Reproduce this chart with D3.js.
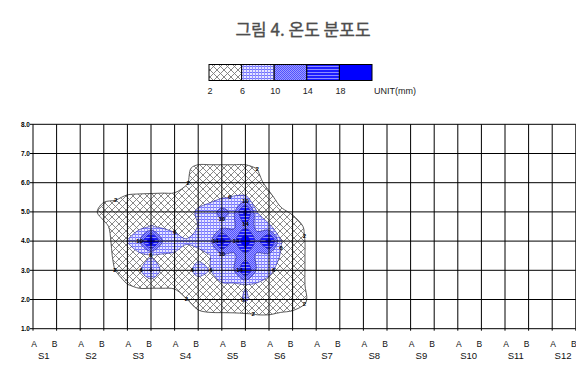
<!DOCTYPE html>
<html>
<head>
<meta charset="utf-8">
<script src="https://cdn.jsdelivr.net/npm/d3@7"></script>
<style>
  body { margin: 0; background: #fff; }
  svg { display: block; font-family: "Liberation Sans", Arial, sans-serif; }
</style>
</head>
<body>
<svg id="chart" width="576" height="372"></svg>
<script>
// ---- data ----
const chartTitle = "그림 4. 온도 분포도";
const stations = ["S1", "S2", "S3", "S4", "S5", "S6", "S7", "S8", "S9", "S10", "S11", "S12"];
const sides = ["A", "B"];
const heights = [1, 2, 3, 4, 5, 6, 7, 8];
const legendBreaks = [2, 6, 10, 14, 18];
const legendUnit = "UNIT(mm)";

// measurement grid: column = line position (0 = S1 A ... 23 = S12 B), row = height
const gridCols = [2, 2.5, 3, 3.5, 4, 4.5, 5, 5.5, 6, 6.5, 7, 7.5, 8, 8.5, 9, 9.5, 10, 10.5, 11, 11.5, 12];
const gridRows = [7, 6.5, 6, 5.5, 5, 4.5, 4, 3.5, 3, 2.5, 2, 1.5, 1];
const gridValues = [
  [0, 0, 0, 0, 0, 0, 0, 0, 0, 0, 0, 0, 0, 0, 0, 0, 0, 0, 0, 0, 0],
  [0, 0, 0, 0, 0, 0, 0, 0, 0, 1.6, 2.6, 2.6, 2.6, 2.6, 2.6, 1.9, 0, 0, 0, 0, 0],
  [0, 0, 0, 0, 0, 0, 0, 0, 0, 1.75, 3.5, 4, 4, 4, 4, 3, 1, 0, 0, 0, 0],
  [0, 0, 1.2, 1.6, 2.4, 2.6, 2.7, 2.8, 2.9, 3.2, 4, 4.8, 5.6, 6.2, 6.3, 5, 2.8, 0.8, 0, 0, 0],
  [0, 0.8, 3.5, 3.6, 3.7, 3.8, 4, 4, 4, 4, 6.8, 8, 11.5, 9, 20, 5.9, 4, 2.6, 1.6, 0, 0],
  [0, 0, 1, 3.5, 4, 5, 6.2, 5.5, 5, 4.5, 6.1, 7.5, 8.5, 9.5, 13, 9, 6.5, 4.5, 3.5, 1.8, 0],
  [0, 0, 0.5, 3, 6.2, 9.5, 22, 9.5, 7.5, 6.3, 7, 8.3, 20.5, 12, 22, 12, 20.5, 6.2, 3.5, 2.1, 0],
  [0, 0, 0.5, 2.6, 4, 5, 5.2, 5.5, 5.5, 5, 5, 5.9, 8.5, 9.5, 12, 9.5, 8, 5.8, 3.5, 2.1, 0],
  [0, 0, 0.3, 2.1, 4, 5, 10.8, 4.5, 4, 4.5, 7.5, 5.8, 8.5, 9.5, 18.5, 9, 7, 4.5, 3.5, 2.1, 0],
  [0, 0, 0, 0.5, 1.9, 2.6, 2.6, 2.6, 2.8, 3.5, 4, 4.5, 5.5, 5.5, 5.8, 5.5, 4.5, 4, 3.5, 2.1, 0],
  [0, 0, 0, 0, 0, 0, 0, 0, 0, 1.9, 3, 3.5, 3.8, 4.1, 6.6, 4.1, 3.8, 3.5, 3.3, 2.5, 0],
  [0, 0, 0, 0, 0, 0, 0, 0, 0, 0.5, 1.6, 1.8, 1.8, 1.8, 1.8, 2.1, 2.1, 1.8, 1.6, 1, 0],
  [0, 0, 0, 0, 0, 0, 0, 0, 0, 0, 0, 0, 0, 0, 0, 0, 0, 0, 0, 0, 0]
];

// ---- layout ----
const svg = d3.select("#chart");
const nLines = stations.length * sides.length;
const x = d3.scaleLinear().domain([0, nLines - 1]).range([33, 575.8]);
const y = d3.scaleLinear().domain([d3.min(heights), d3.max(heights)]).range([328.7, 124.3]);

// ---- fill patterns, one per band ----
const defs = svg.append("defs");
function pattern(id, w, h) {
  return defs.append("pattern").attr("id", id).attr("patternUnits", "userSpaceOnUse")
    .attr("width", w).attr("height", h);
}
{
  const p = pattern("band0", 7, 7);
  p.append("rect").attr("width", 7).attr("height", 7).attr("fill", "#fff");
  p.append("path").attr("d", "M-1,-1L8,8M8,-1L-1,8").attr("stroke", "#7a7a7a").attr("stroke-width", 0.9);
}
{
  const p = pattern("band1", 3, 3);
  p.append("rect").attr("width", 3).attr("height", 3).attr("fill", "#e6e6ff");
  p.append("rect").attr("width", 3).attr("height", 1).attr("fill", "#7272ff");
  p.append("rect").attr("width", 1).attr("height", 3).attr("fill", "#9494ff");
}
{
  const p = pattern("band2", 2, 2);
  p.append("rect").attr("width", 2).attr("height", 2).attr("fill", "#9c9cff");
  p.append("rect").attr("width", 1).attr("height", 1).attr("fill", "#5050ff");
  p.append("rect").attr("x", 1).attr("y", 1).attr("width", 1).attr("height", 1).attr("fill", "#5050ff");
}
{
  const p = pattern("band3", 3, 3);
  p.append("rect").attr("width", 3).attr("height", 3).attr("fill", "#1c1cff");
  p.append("rect").attr("width", 3).attr("height", 1).attr("fill", "#8c8cff");
}
const bandFill = ["url(#band0)", "url(#band1)", "url(#band2)", "url(#band3)", "#0000ff"];

// ---- title ----
svg.append("text").attr("x", 303).attr("y", 36).attr("text-anchor", "middle")
  .attr("font-family", "'Noto Sans CJK KR', 'Noto Sans', sans-serif")
  .attr("font-size", 17).attr("font-weight", "normal").attr("fill", "#4d4d4d")
  .attr("stroke", "#4d4d4d").attr("stroke-width", 0.35)
  .text(chartTitle);

// ---- legend ----
const legendTop = [...legendBreaks, legendBreaks[legendBreaks.length - 1] + 4];
const lx = d3.scaleLinear().domain([legendTop[0], legendTop[legendTop.length - 1]]).range([209, 372]);
const legend = svg.append("g");
legend.selectAll("rect").data(legendBreaks).join("rect")
  .attr("x", (d, i) => lx(d)).attr("y", 64.5)
  .attr("width", (d, i) => lx(legendTop[i + 1]) - lx(d)).attr("height", 16)
  .attr("fill", (d, i) => bandFill[i]).attr("stroke", "#000").attr("stroke-width", 1);
legend.selectAll("text.lv").data(legendBreaks).join("text").attr("class", "lv")
  .attr("x", d => lx(d) + 1).attr("y", 94).attr("text-anchor", "middle")
  .attr("font-size", 9).attr("fill", "#222").text(d => d);
legend.append("text").attr("x", 374).attr("y", 94).attr("font-size", 9).attr("fill", "#222").text(legendUnit);

// ---- contour bands ----
const nx = gridCols.length, ny = gridRows.length;
const contours = d3.contours().size([nx, ny]).thresholds(legendBreaks)(gridValues.flat());
const gx = d3.scaleLinear().domain([0.5, nx - 0.5]).range([gridCols[0], gridCols[nx - 1]]);
const gy = d3.scaleLinear().domain([0.5, ny - 0.5]).range([gridRows[0], gridRows[ny - 1]]);
const toPx = p => [x(gx(p[0])), y(gy(p[1]))];
const ringLine = d3.line().curve(d3.curveCatmullRomClosed.alpha(0.5));
const ringsOf = c => c.coordinates.flatMap(poly => poly.map(ring => ring.slice(0, -1).map(toPx)));
const bandPath = c => ringsOf(c).map(r => ringLine(r)).join("");

const plot = svg.append("g");
contours.forEach((c, i) => {
  plot.append("path").attr("d", bandPath(c)).attr("fill", bandFill[i]).attr("fill-rule", "evenodd")
    .attr("stroke", i === 0 ? "#4a4a4a" : "#20208a").attr("stroke-width", i === 0 ? 0.9 : 0.6);
});

// ---- grid ----
const grid = svg.append("g").attr("stroke", "#000").attr("stroke-width", 1);
grid.selectAll("line.h").data(heights).join("line").attr("class", "h")
  .attr("x1", x(0)).attr("x2", x(nLines - 1)).attr("y1", d => y(d)).attr("y2", d => y(d));
grid.selectAll("line.v").data(d3.range(nLines)).join("line").attr("class", "v")
  .attr("x1", d => x(d)).attr("x2", d => x(d)).attr("y1", y(1)).attr("y2", y(8));
// small tick marks on the axes
grid.selectAll("line.yt").data(heights).join("line").attr("class", "yt")
  .attr("x1", x(0) - 3).attr("x2", x(0)).attr("y1", d => y(d)).attr("y2", d => y(d));
grid.selectAll("line.xt").data(d3.range(nLines)).join("line").attr("class", "xt")
  .attr("x1", d => x(d)).attr("x2", d => x(d)).attr("y1", y(1)).attr("y2", y(1) + 2);

// contour value labels along the longer rings, kept apart from each other
const labels = svg.append("g").attr("font-size", 6).attr("font-weight", "bold").attr("fill", "#000")
  .attr("text-anchor", "middle");
const placed = [];
contours.forEach((c, i) => {
  ringsOf(c).forEach(r => {
    let acc = 0, next = 22;
    for (let k = 1; k <= r.length; k++) {
      const a = r[k - 1], b = r[k % r.length];
      acc += Math.hypot(b[0] - a[0], b[1] - a[1]);
      if (acc >= next) {
        next += 80;
        if (placed.some(p => Math.hypot(p[0] - b[0], p[1] - b[1]) < 14)) continue;
        placed.push(b);
        labels.append("text").attr("x", b[0]).attr("y", b[1] + 2).text(legendBreaks[i]);
      }
    }
  });
});

// ---- axis labels ----
svg.append("g").selectAll("text").data(heights).join("text")
  .attr("x", 30).attr("y", d => y(d) + 2.2).attr("text-anchor", "end")
  .attr("font-size", 6.5).attr("font-weight", "bold").attr("fill", "#000")
  .text(d => d.toFixed(1));

const xl = svg.append("g").attr("fill", "#111");
stations.forEach((s, k) => {
  sides.forEach((sd, j) => {
    xl.append("text").attr("x", x(2 * k + j) + (j === 0 ? 1 : -2)).attr("y", 346.5)
      .attr("text-anchor", "middle").attr("font-size", 8.5).text(sd);
  });
  xl.append("text").attr("x", (x(2 * k) + x(2 * k + 1)) / 2 - 1).attr("y", 359)
    .attr("text-anchor", "middle").attr("font-size", 9.5).text(s);
});
</script>
</body>
</html>
